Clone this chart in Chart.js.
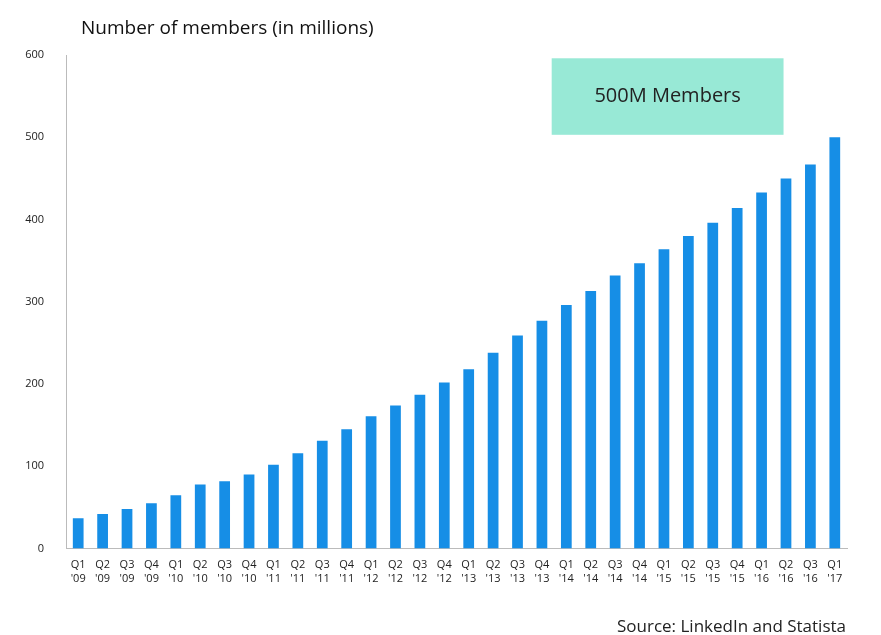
<!DOCTYPE html>
<html><head><meta charset="utf-8">
<script src="https://cdn.jsdelivr.net/npm/chart.js@4"></script>
<style>html,body{margin:0;padding:0;background:#fff}#wrap{width:881px;height:635px}</style>
</head><body><div id="wrap"><canvas id="c"></canvas></div>
<script>
var quarters = ["Q1","Q2","Q3","Q4","Q1","Q2","Q3","Q4","Q1","Q2","Q3","Q4","Q1","Q2","Q3","Q4","Q1","Q2","Q3","Q4","Q1","Q2","Q3","Q4","Q1","Q2","Q3","Q4","Q1","Q2","Q3","Q1"];
var years = ["'09","'09","'09","'09","'10","'10","'10","'10","'11","'11","'11","'11","'12","'12","'12","'12","'13","'13","'13","'13","'14","'14","'14","'14","'15","'15","'15","'15","'16","'16","'16","'17"];
var members = [37,42,48,55,65,78,82,90,102,116,131,145,161,174,187,202,218,238,259,277,296,313,332,347,364,380,396,414,433,450,467,500];
var labels = quarters.map(function(q,i){ return [q, years[i]]; });

var extras = {
  id:'extras',
  beforeDatasetsDraw:function(chart){
    var ctx = chart.ctx, x = chart.scales.x, y = chart.scales.y;
    // callout box, anchored to data scale
    var x0 = x.getPixelForValue(19.4), x1 = x.getPixelForValue(28.9);
    var y0 = y.getPixelForValue(596), y1 = y.getPixelForValue(503);
    ctx.save();
    ctx.fillStyle = '#98e9d6';
    ctx.fillRect(x0, y0, x1-x0, y1-y0);
    ctx.fillStyle = '#222';
    ctx.font = '20px "Open Sans"';
    ctx.textAlign = 'center'; ctx.textBaseline = 'middle';
    ctx.fillText('500M Members', (x0+x1)/2, (y0+y1)/2);
    ctx.restore();
  },
  afterDraw:function(chart){
    var ctx = chart.ctx;
    ctx.save();
    ctx.fillStyle = '#111';
    ctx.font = '19px "Open Sans"';
    ctx.textBaseline = 'middle';
    ctx.fillText('Number of members (in millions)', 81, 29);
    ctx.fillStyle = '#222';
    ctx.font = '17px "Open Sans"';
    ctx.textAlign = 'right';
    ctx.fillText('Source: LinkedIn and Statista', 846, 627);
    ctx.restore();
  }
};

new Chart(document.getElementById('c'), {
  type:'bar',
  data:{ labels:labels, datasets:[{ data:members, backgroundColor:'#168ee6', categoryPercentage:0.44, barPercentage:1 }] },
  options:{
    responsive:true, maintainAspectRatio:false, animation:false,
    layout:{ padding:{ top:55, right:34, bottom:48, left:0 } },
    plugins:{ legend:{display:false}, tooltip:{enabled:false} },
    scales:{
      x:{ grid:{ display:false, drawTicks:true }, border:{ color:'#bbb' },
          ticks:{ color:'#222', font:{ family:'Open Sans', size:11 }, maxRotation:0, autoSkip:false, padding:2 } },
      y:{ min:0, max:600, grid:{ display:false }, border:{ color:'#bbb' },
          ticks:{ stepSize:100, color:'#222', font:{ family:'Open Sans', size:11 }, padding:14 },
          afterFit:function(s){ s.width = 66; } }
    }
  },
  plugins:[extras]
});
</script></body></html>
